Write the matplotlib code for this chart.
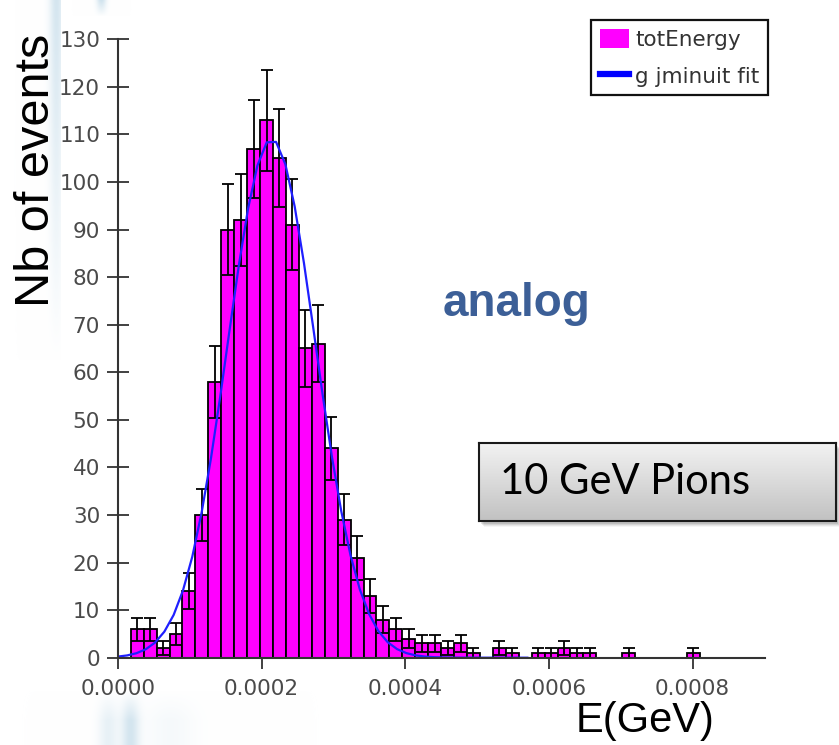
import numpy as np
import matplotlib
matplotlib.use("Agg")
import matplotlib.pyplot as plt
from matplotlib.patches import Patch, Rectangle
from matplotlib.lines import Line2D

# Histogram of total deposited energy: 50 bins of equal width starting at 0 GeV
bin_width = 1.8e-5
counts = [0, 6, 6, 2, 5, 14, 30, 58, 90, 92,
          107, 113, 105, 91, 65, 66, 44, 29, 21, 13,
          8, 6, 4, 3, 3, 2, 3, 1, 0, 2,
          1, 0, 1, 1, 2, 1, 1, 0, 0, 1,
          0, 0, 0, 0, 1, 0, 0, 0, 0, 0]

# Gaussian fit result
fit_amplitude = 109.0
fit_mean = 0.000214
fit_sigma = 6.1e-5
fit_range = (0.0, 0.00057)

x_ticks = [0.0, 0.0002, 0.0004, 0.0006, 0.0008]
x_tick_labels = ["0.0000", "0.0002", "0.0004", "0.0006", "0.0008"]
y_ticks = list(range(0, 131, 10))

W, H = 839, 745
fig = plt.figure(figsize=(W / 100, H / 100), dpi=100)
fig.patch.set_facecolor("white")

# --- slide background with soft light blue swooshes --------------------
bg = np.ones((H, W, 3))
yy, xx = np.mgrid[0:H, 0:W].astype(float)
swoosh = np.array([0.70, 0.82, 0.89])

def paint(strength):
    global bg
    s = np.clip(strength, 0, 1)[..., None]
    bg = bg * (1 - s) + swoosh * s

# left band behind the axis title, cut by the white chart area at x = 60
left = np.exp(-((xx - 56) / 7.0) ** 2) * np.clip(1 - yy / 360.0, 0, 1) * 0.55
left[xx > 60] = 0
paint(left)
# small stroke at the top
top = np.exp(-((xx - 101) / 5.0) ** 2) * np.clip(1 - yy / 16.0, 0, 1) * 0.6
paint(top)
# bands at the bottom left, below the chart area
fade = np.clip((yy - 690) / 30.0, 0, 1)
bot = (np.exp(-((xx - 130) / 9.0) ** 2) * 0.55 + np.exp(-((xx - 108) / 10.0) ** 2) * 0.3
       + np.exp(-((xx - 170) / 25.0) ** 2) * 0.12) * fade
paint(bot)

bg_ax = fig.add_axes([0, 0, 1, 1], zorder=-10)
bg_ax.imshow(bg, extent=[0, W, H, 0], aspect="auto", interpolation="bilinear")
bg_ax.set_xlim(0, W)
bg_ax.set_ylim(H, 0)
bg_ax.axis("off")

# --- histogram axes ----------------------------------------------------
x_lo, x_hi = 0.0, 0.0009
ax = fig.add_axes([117.8 / W, 1 - 657.7 / H, (764.5 - 117.8) / W, (657.7 - 39.3) / H])
ax.set_facecolor("none")

counts_arr = np.array(counts, dtype=float)
edges = np.arange(len(counts) + 1) * bin_width
centers = edges[:-1] + bin_width / 2

ax.bar(edges[:-1], counts_arr, width=bin_width, align="edge",
       color="#ff00ff", edgecolor="black", linewidth=1.3, zorder=2)

nz = counts_arr > 0
ax.errorbar(centers[nz], counts_arr[nz], yerr=np.sqrt(counts_arr[nz]), fmt="none",
            ecolor="black", elinewidth=1.3, capsize=4.6, capthick=1.3, zorder=3)

xf = np.linspace(fit_range[0], fit_range[1], 45)
yf = fit_amplitude * np.exp(-0.5 * ((xf - fit_mean) / fit_sigma) ** 2)
ax.plot(xf, yf, color="#1f1fff", lw=1.6, zorder=4)

ax.set_xlim(x_lo, x_hi)
ax.set_ylim(0, 130)
for side in ("top", "right"):
    ax.spines[side].set_visible(False)
for side in ("left", "bottom"):
    ax.spines[side].set_color("#333333")
    ax.spines[side].set_linewidth(1.5)
    ax.spines[side].set_zorder(5)

ax.set_xticks(x_ticks)
ax.set_xticklabels(x_tick_labels)
ax.set_yticks(y_ticks)
ax.tick_params(axis="y", direction="inout", length=15.5, width=1.3, color="#333333",
               labelsize=15.5, labelcolor="#4a4a4a", pad=5)
ax.tick_params(axis="x", direction="out", length=8, width=1.3, color="#333333",
               labelsize=15.5, labelcolor="#4a4a4a", pad=7)
for lab in ax.get_xticklabels() + ax.get_yticklabels():
    lab.set_fontfamily("DejaVu Sans")

leg = ax.legend(handles=[Patch(facecolor="#ff00ff", edgecolor="none"),
                         Line2D([], [], color="#0000ff", lw=4.5)],
                labels=["totEnergy", "g jminuit fit"],
                loc="upper right", bbox_to_anchor=(768 / W, 1 - 20 / H),
                bbox_transform=fig.transFigure, frameon=True, fancybox=False,
                framealpha=1, edgecolor="#111111", borderpad=0.4,
                handlelength=1.35, handleheight=1.0, handletextpad=0.3,
                labelspacing=0.75, borderaxespad=0,
                prop={"family": "DejaVu Sans", "size": 15.5})
leg.get_frame().set_linewidth(1.6)
for t in leg.get_texts():
    t.set_color("#333333")

# --- slide annotations -------------------------------------------------
fig.text(37 / W, 1 - 170 / H, "Nb of events", rotation=90, ha="center", va="center",
         fontsize=35, family="Liberation Sans", color="black")
fig.text(645 / W, 1 - 721 / H, "E(GeV)", ha="center", va="center",
         fontsize=30, family="Liberation Sans", color="black")
fig.text(517 / W, 1 - 304 / H, "analog", ha="center", va="center",
         fontsize=33, family="Liberation Sans", fontweight="bold", color="#3c5f97")

# grey gradient box with drop shadow
bx0, bx1, by0, by1 = 479, 836, 443, 521
for k, a in enumerate([0.10, 0.08, 0.06, 0.04]):
    fig.patches.append(Rectangle(((bx0 + 2 + k) / W, 1 - (by1 + 3 + k) / H),
                                 (bx1 - bx0) / W, (by1 - by0) / H,
                                 transform=fig.transFigure, facecolor="black",
                                 edgecolor="none", alpha=a, zorder=1))
box_ax = fig.add_axes([bx0 / W, 1 - by1 / H, (bx1 - bx0) / W, (by1 - by0) / H], zorder=6)
grad = np.linspace(0.95, 0.76, 64)[:, None] * np.ones((64, 4))
box_ax.imshow(np.dstack([grad, grad, grad]), extent=[0, 1, 0, 1], aspect="auto",
              interpolation="bilinear")
box_ax.set_xticks([])
box_ax.set_yticks([])
for sp in box_ax.spines.values():
    sp.set_color("#1a1a1a")
    sp.set_linewidth(1.5)
box_ax.text(21 / (bx1 - bx0), 0.5, "10 GeV Pions", ha="left", va="center",
            fontsize=30, family="Lato", color="black", transform=box_ax.transAxes)

fig.savefig("out.png", dpi=100)
